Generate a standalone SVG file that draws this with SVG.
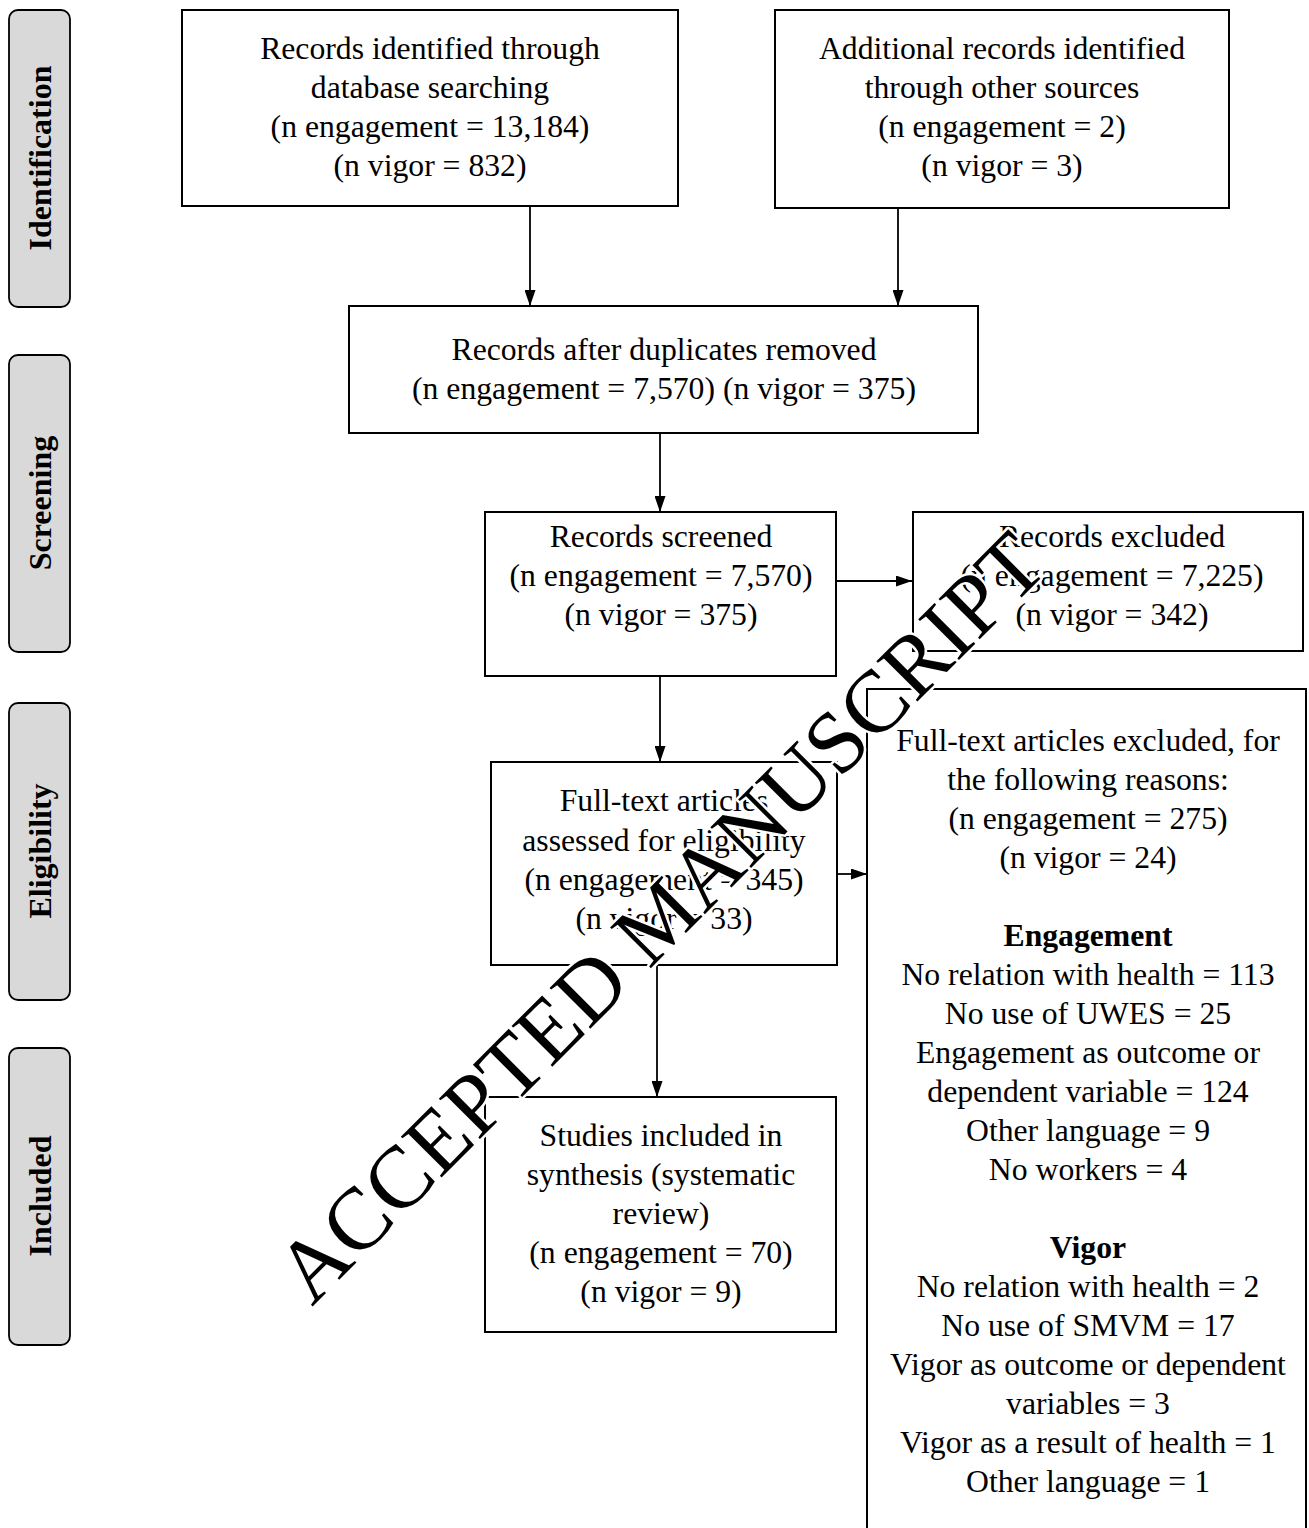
<svg xmlns="http://www.w3.org/2000/svg" width="1309" height="1528" viewBox="0 0 1309 1528">
<style>
.box{fill:#fff;stroke:#000;stroke-width:2}
.phase{fill:#d9d9d9;stroke:#000;stroke-width:1.8}
.t{font-family:"Liberation Serif","Times New Roman",serif;font-size:31.7px;fill:#000;text-anchor:middle}
.b{font-weight:bold}
.ph{font-family:"Liberation Serif","Times New Roman",serif;font-size:32px;font-weight:bold;fill:#000;text-anchor:middle;dominant-baseline:central}
.c{fill:none;stroke:#000;stroke-width:1.8}
.wm{font-family:"Liberation Serif","Times New Roman",serif;font-size:88px;fill:#000;stroke:#fff;stroke-width:5;paint-order:stroke;stroke-linejoin:round;text-anchor:middle}
</style>
<defs>
<marker id="ah" markerUnits="userSpaceOnUse" markerWidth="16" markerHeight="11" refX="16" refY="5.5" orient="auto">
<path d="M0,0 L16,5.5 L0,11 z" fill="#000"/>
</marker>
</defs>
<rect width="1309" height="1528" fill="#fff"/>

<g id="phase-identification">
<rect class="phase" x="9" y="10" width="61" height="297" rx="9"/>
<text class="ph" transform="translate(40,158) rotate(-90)">Identification</text>
</g>
<g id="phase-screening">
<rect class="phase" x="9" y="355" width="61" height="297" rx="9"/>
<text class="ph" transform="translate(40,503) rotate(-90)">Screening</text>
</g>
<g id="phase-eligibility">
<rect class="phase" x="9" y="703" width="61" height="297" rx="9"/>
<text class="ph" transform="translate(40,851) rotate(-90)">Eligibility</text>
</g>
<g id="phase-included">
<rect class="phase" x="9" y="1048" width="61" height="297" rx="9"/>
<text class="ph" transform="translate(40,1196) rotate(-90)">Included</text>
</g>

<g id="connectors">
<line class="c" x1="530" y1="207" x2="530" y2="306" marker-end="url(#ah)"/>
<line class="c" x1="898" y1="209" x2="898" y2="306" marker-end="url(#ah)"/>
<line class="c" x1="660" y1="433" x2="660" y2="512" marker-end="url(#ah)"/>
<line class="c" x1="836" y1="581" x2="912" y2="581" marker-end="url(#ah)"/>
<line class="c" x1="660" y1="676" x2="660" y2="762" marker-end="url(#ah)"/>
<line class="c" x1="837" y1="874" x2="867" y2="874" marker-end="url(#ah)"/>
<line class="c" x1="657" y1="966" x2="657" y2="1097" marker-end="url(#ah)"/>
</g>

<g id="node-db">
<rect class="box" x="182" y="10" width="496" height="196"/>
<text class="t" x="430" y="59">Records identified through</text>
<text class="t" x="430" y="98">database searching</text>
<text class="t" x="430" y="137">(n engagement = 13,184)</text>
<text class="t" x="430" y="176">(n vigor = 832)</text>
</g>
<g id="node-other">
<rect class="box" x="775" y="10" width="454" height="198"/>
<text class="t" x="1002" y="59">Additional records identified</text>
<text class="t" x="1002" y="98">through other sources</text>
<text class="t" x="1002" y="137">(n engagement = 2)</text>
<text class="t" x="1002" y="176">(n vigor = 3)</text>
</g>
<g id="node-dedup">
<rect class="box" x="349" y="306" width="629" height="127"/>
<text class="t" x="664" y="360">Records after duplicates removed</text>
<text class="t" x="664" y="399">(n engagement = 7,570) (n vigor = 375)</text>
</g>
<g id="node-screened">
<rect class="box" x="485" y="512" width="351" height="164"/>
<text class="t" x="661" y="547">Records screened</text>
<text class="t" x="661" y="586">(n engagement = 7,570)</text>
<text class="t" x="661" y="625">(n vigor = 375)</text>
</g>
<g id="node-excluded">
<rect class="box" x="913" y="512" width="390" height="139"/>
<text class="t" x="1112" y="547">Records excluded</text>
<text class="t" x="1112" y="586">(n engagement = 7,225)</text>
<text class="t" x="1112" y="625">(n vigor = 342)</text>
</g>
<g id="node-fulltext">
<rect class="box" x="491" y="762" width="346" height="203"/>
<text class="t" x="664" y="811">Full-text articles</text>
<text class="t" x="664" y="851">assessed for eligibility</text>
<text class="t" x="664" y="890">(n engagement = 345)</text>
<text class="t" x="664" y="929">(n vigor = 33)</text>
</g>
<g id="node-ft-excluded">
<rect class="box" x="867" y="689" width="439" height="860"/>
<text class="t" x="1088" y="751">Full-text articles excluded, for</text>
<text class="t" x="1088" y="790">the following reasons:</text>
<text class="t" x="1088" y="829">(n engagement = 275)</text>
<text class="t" x="1088" y="868">(n vigor = 24)</text>
<text class="t b" x="1088" y="946">Engagement</text>
<text class="t" x="1088" y="985">No relation with health = 113</text>
<text class="t" x="1088" y="1024">No use of UWES = 25</text>
<text class="t" x="1088" y="1063">Engagement as outcome or</text>
<text class="t" x="1088" y="1102">dependent variable = 124</text>
<text class="t" x="1088" y="1141">Other language = 9</text>
<text class="t" x="1088" y="1180">No workers = 4</text>
<text class="t b" x="1088" y="1258">Vigor</text>
<text class="t" x="1088" y="1297">No relation with health = 2</text>
<text class="t" x="1088" y="1336">No use of SMVM = 17</text>
<text class="t" x="1088" y="1375">Vigor as outcome or dependent</text>
<text class="t" x="1088" y="1414">variables = 3</text>
<text class="t" x="1088" y="1453">Vigor as a result of health = 1</text>
<text class="t" x="1088" y="1492">Other language = 1</text>
</g>
<g id="node-included">
<rect class="box" x="485" y="1097" width="351" height="235"/>
<text class="t" x="661" y="1146">Studies included in</text>
<text class="t" x="661" y="1185">synthesis (systematic</text>
<text class="t" x="661" y="1224">review)</text>
<text class="t" x="661" y="1263">(n engagement = 70)</text>
<text class="t" x="661" y="1302">(n vigor = 9)</text>
</g>

<text class="wm" transform="translate(681,938) rotate(-45)">ACCEPTED MANUSCRIPT</text>
</svg>
